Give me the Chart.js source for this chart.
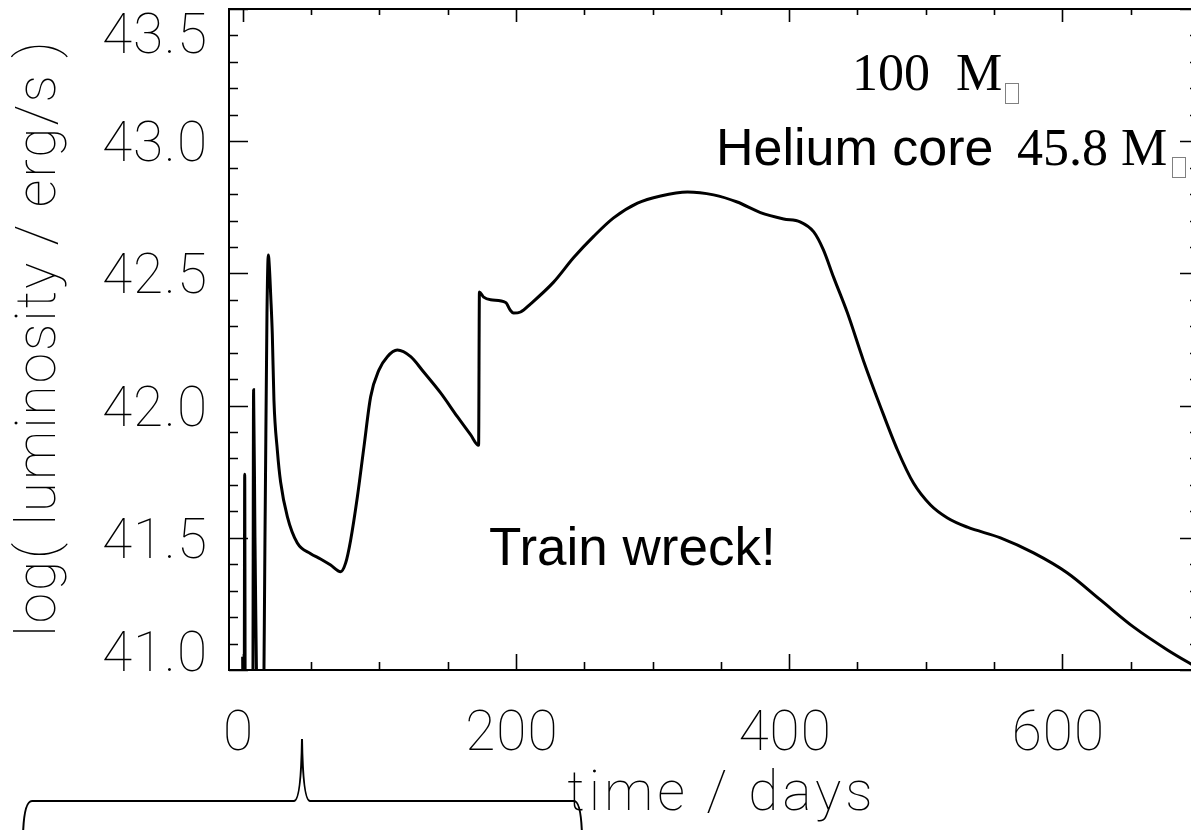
<!DOCTYPE html>
<html>
<head>
<meta charset="utf-8">
<script src="https://cdn.jsdelivr.net/npm/chart.js@4.4.1/dist/chart.umd.min.js"></script>
<style>
  html, body { margin: 0; padding: 0; background: #fff; overflow: hidden; }
  #wrap { width: 1210px; height: 830px; }
</style>
</head>
<body>
<div id="wrap"><canvas id="lc" width="1210" height="830"></canvas></div>
<script>
// Light curve of a 100 Msun model (helium core 45.8 Msun)
const days = [
  0, 0.3, 1.1, 1.5, 1.9, 7.4, 8.0, 9.0, 11.0, 15.0, 16.5, 17.8, 18.8, 19.6,
  20.5, 21.7, 22.9, 25.4, 27.8, 32.7, 40, 49.8, 57, 64.4, 71.7, 75.4, 79, 84,
  88.8, 93.7, 99.8, 105.9, 113.2, 123, 132.5, 144.9, 157.3, 166.8, 172.7,
  173.3, 176.4, 181.5, 192.5, 196, 198.3, 203.4, 210.8, 227.6, 242.3, 256.9,
  271.5, 289, 305.9, 325.6, 344.7, 362, 379, 396, 408, 418, 425, 432.5, 442.7,
  454.4, 466.9, 479.3, 491, 503.5, 515.9, 530.5, 554.7, 578.9, 603.7, 627.9,
  652, 676.9, 700
];
const logL = [
  41.05, 40.8, 40.8, 41.74, 40.8, 40.8, 42.06, 41.5, 40.8, 40.8, 41.6, 42.35, 42.57, 42.52,
  42.42, 42.27, 42.02, 41.83, 41.71, 41.58, 41.48, 41.44, 41.42, 41.397, 41.372, 41.405, 41.49, 41.656,
  41.845, 42.034, 42.135, 42.185, 42.21, 42.185, 42.127, 42.048, 41.957, 41.89, 41.85,
  42.43, 42.41, 42.40, 42.39, 42.36, 42.35, 42.354, 42.385, 42.467, 42.56, 42.64,
  42.71, 42.766, 42.793, 42.808, 42.797, 42.77, 42.73, 42.706, 42.695, 42.657, 42.59, 42.486, 42.35,
  42.17, 41.995, 41.832, 41.707, 41.624, 41.575, 41.54, 41.5, 41.443, 41.367, 41.265,
  41.163, 41.076, 41.005
];

// axis ranges and ticks
const xRange = [-10, 700];
const yRange = [41.0, 43.5];
const xMajorTicks = [0, 200, 400, 600];
const xMinorStep = 50;
const yMajorTicks = [41.0, 41.5, 42.0, 42.5, 43.0, 43.5];
const yMinorStep = 0.1;
const xTitle = 'time / days';
const yTitle = 'log( luminosity / erg/s )';

const AXIS_FONT = '100 55px Roboto, "DejaVu Sans", sans-serif';

function drawBrace(ctx) {
  ctx.save();
  ctx.strokeStyle = '#000';
  ctx.lineWidth = 2;
  ctx.beginPath();
  ctx.moveTo(23, 835);
  ctx.quadraticCurveTo(24, 801, 32, 801);
  ctx.lineTo(294, 801);
  ctx.quadraticCurveTo(301, 801, 302, 739);
  ctx.quadraticCurveTo(303, 801, 310, 801);
  ctx.lineTo(574, 801);
  ctx.quadraticCurveTo(581, 801, 582, 835);
  ctx.stroke();
  ctx.restore();
}

function tofu(ctx, x, y, w, h) {
  ctx.save();
  ctx.strokeStyle = '#808080';
  ctx.lineWidth = 1;
  ctx.strokeRect(x + 0.5, y + 0.5, w, h);
  ctx.restore();
}

const framePlugin = {
  id: 'idlFrame',
  afterDatasetsDraw(chart) {
    const ctx = chart.ctx;
    const xs = chart.scales.x, ys = chart.scales.y;
    const a = chart.chartArea;
    ctx.save();
    ctx.strokeStyle = '#000';
    ctx.lineWidth = 2;
    ctx.strokeRect(a.left, a.top, a.right - a.left, a.bottom - a.top);

    ctx.lineWidth = 1.6;
    ctx.beginPath();
    // x ticks (bottom: pointing up; top: pointing down)
    for (let v = 0; v <= xRange[1]; v += xMinorStep) {
      const px = Math.round(xs.getPixelForValue(v)) + 0.5;
      const major = xMajorTicks.includes(v);
      ctx.moveTo(px, a.bottom); ctx.lineTo(px, a.bottom - (major ? 16 : 8));
      ctx.moveTo(px, a.top); ctx.lineTo(px, a.top + (major ? 13 : 6));
    }
    // y ticks (left and right, pointing inward)
    for (let i = 0; i <= Math.round((yRange[1] - yRange[0]) / yMinorStep); i++) {
      const v = yRange[0] + i * yMinorStep;
      const py = Math.round(ys.getPixelForValue(v)) + 0.5;
      const major = i % 5 === 0;
      ctx.moveTo(a.left, py); ctx.lineTo(a.left + (major ? 19 : 9), py);
      ctx.moveTo(a.right, py); ctx.lineTo(a.right - (major ? 19 : 9), py);
    }
    ctx.stroke();

    // tick labels
    ctx.fillStyle = '#000';
    ctx.font = AXIS_FONT;
    ctx.textAlign = 'right';
    ctx.textBaseline = 'alphabetic';
    ctx.letterSpacing = '1px';
    yMajorTicks.forEach(v => {
      let base = ys.getPixelForValue(v) + 20;
      if (v === yRange[1]) base = 53;
      if (v === yRange[0]) base = 671;
      ctx.fillText(v.toFixed(1), 208, base);
    });
    ctx.textAlign = 'center';
    xMajorTicks.forEach(v => {
      ctx.fillText(String(v), xs.getPixelForValue(v) - 4, 750);
    });

    // axis titles
    ctx.letterSpacing = '4px';
    ctx.fillText(xTitle, 722, 810);
    ctx.save();
    ctx.translate(55, 338);
    ctx.rotate(-Math.PI / 2);
    ctx.letterSpacing = '2px';
    ctx.fillText(yTitle, 0, 0);
    ctx.restore();
    ctx.letterSpacing = '0px';

    // annotations
    ctx.textAlign = 'left';
    ctx.font = '52px "Liberation Serif", "Times New Roman", serif';
    ctx.fillText('100  M', 852, 90);
    tofu(ctx, 1005, 83, 13, 20);
    ctx.font = '52px "Liberation Sans", Arial, sans-serif';
    ctx.fillText('Helium core', 716, 165);
    ctx.font = '52px "Liberation Serif", "Times New Roman", serif';
    ctx.fillText('45.8 M', 1017, 165);
    tofu(ctx, 1172, 157, 13, 20);
    ctx.font = '53px "Liberation Sans", Arial, sans-serif';
    ctx.fillText('Train wreck!', 489, 565);

    drawBrace(ctx);
    ctx.restore();
  }
};

new Chart(document.getElementById('lc'), {
  type: 'line',
  data: {
    labels: days,
    datasets: [{
      data: days.map((d, i) => ({ x: d, y: logL[i] })),
      borderColor: '#000',
      borderWidth: 3,
      pointRadius: 0,
      fill: false,
      cubicInterpolationMode: 'monotone',
      clip: 0
    }]
  },
  options: {
    responsive: false,
    animation: false,
    layout: { padding: { left: 229, right: 11, top: 9, bottom: 160 } },
    plugins: { legend: { display: false }, tooltip: { enabled: false } },
    scales: {
      x: { type: 'linear', min: xRange[0], max: xRange[1], display: false },
      y: { type: 'linear', min: yRange[0], max: yRange[1], display: false }
    }
  },
  plugins: [framePlugin]
});
</script>
</body>
</html>
